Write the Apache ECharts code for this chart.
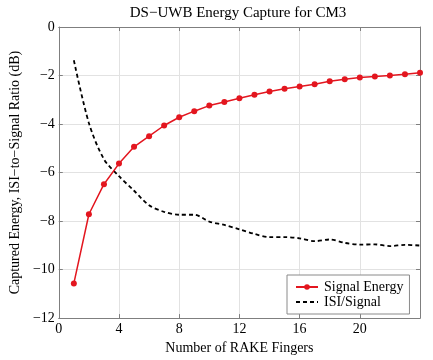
<!DOCTYPE html>
<html>
<head>
<meta charset="utf-8">
<script src="https://cdn.jsdelivr.net/npm/echarts@6/dist/echarts.min.js"></script>
<style>
html,body{margin:0;padding:0;background:#fff;}
#chart{width:433px;height:360px;}
</style>
</head>
<body>
<div id="chart"></div>
<script>
// Data
var fingers = [1,2,3,4,5,6,7,8,9,10,11,12,13,14,15,16,17,18,19,20,21,22,23,24];
var signalEnergy = [-10.57,-7.72,-6.48,-5.63,-4.94,-4.50,-4.06,-3.72,-3.47,-3.24,-3.09,-2.94,-2.79,-2.66,-2.55,-2.45,-2.36,-2.24,-2.15,-2.08,-2.04,-2.00,-1.95,-1.89];
var isiSignal = [-1.37,-3.96,-5.45,-6.15,-6.75,-7.35,-7.62,-7.74,-7.74,-8.02,-8.16,-8.34,-8.53,-8.66,-8.66,-8.71,-8.83,-8.76,-8.90,-8.97,-8.96,-9.03,-8.98,-9.01];
var xTicks = [0,4,8,12,16,20];
var seriesNames = ['Signal Energy','ISI/Signal'];
var titleText = 'DS\u2212UWB Energy Capture for CM3';
var xName = 'Number of RAKE Fingers';
var yName = 'Captured Energy, ISI\u2212to\u2212Signal Ratio (dB)';

function pairs(xs, ys){ return xs.map(function(x,i){ return [x, ys[i]]; }); }
var FONT = "'Liberation Serif', 'DejaVu Serif', serif";
var chart = echarts.init(document.getElementById('chart'), null, {renderer:'canvas'});
var axisColor = '#7f7f7f';
var gridColor = '#e2e2e2';
chart.setOption({
  backgroundColor: '#ffffff',
  animation: false,
  title: {
    text: titleText, left: 233, top: 1, textAlign: 'center',
    textStyle: {fontFamily: FONT, fontSize: 15, fontWeight: 'normal', color: '#000'}
  },
  grid: {left: 48, top: 27, width: 372, height: 294, containLabel: false},
  legend: {
    left: 287, top: 275, width: 128, height: 40,
    orient: 'vertical', itemGap: 1, itemWidth: 22, itemHeight: 7,
    padding: [5, 6, 5, 8],
    backgroundColor: '#fff', borderColor: '#8a8a8a', borderWidth: 1, borderRadius: 0,
    textStyle: {fontFamily: FONT, fontSize: 14, color: '#000', padding: [0,0,0,1]},
    data: [{name: seriesNames[0]}, {name: seriesNames[1], itemStyle: {opacity: 0}}]
  },
  xAxis: [{
    type: 'value', min: 0, max: 24, interval: 4,
    name: xName, nameLocation: 'middle', nameGap: 19,
    nameTextStyle: {fontFamily: FONT, fontSize: 14, color: '#000'},
    axisLine: {show: true, onZero: false, lineStyle: {color: axisColor, width: 1}},
    axisTick: {show: true, inside: true, length: 4, lineStyle: {color: axisColor}},
    axisLabel: {fontFamily: FONT, fontSize: 14, color: '#000', margin: 4,
      formatter: function(v){ return xTicks.indexOf(v) >= 0 ? String(v) : ''; }},
    splitLine: {show: true, lineStyle: {color: gridColor, width: 1}}
  },{
    type: 'value', min: 0, max: 24, interval: 4, position: 'top',
    axisLine: {show: true, onZero: false, lineStyle: {color: axisColor, width: 1}},
    axisTick: {show: true, inside: true, length: 4, lineStyle: {color: axisColor}},
    axisLabel: {show: false}, splitLine: {show: false}
  }],
  yAxis: [{
    type: 'value', min: -12, max: 0, interval: 2,
    name: yName, nameLocation: 'middle', nameGap: 27, nameRotate: 90,
    nameTextStyle: {fontFamily: FONT, fontSize: 14, color: '#000'},
    axisLine: {show: true, onZero: false, lineStyle: {color: axisColor, width: 1}},
    axisTick: {show: true, inside: true, length: 4, lineStyle: {color: axisColor}},
    axisLabel: {fontFamily: FONT, fontSize: 14, color: '#000', margin: 4,
      formatter: function(v){ return String(v).replace('-', '\u2212'); }},
    splitLine: {show: true, lineStyle: {color: gridColor, width: 1}}
  },{
    type: 'value', min: -12, max: 0, interval: 2, position: 'right',
    axisLine: {show: true, onZero: false, lineStyle: {color: axisColor, width: 1}},
    axisTick: {show: true, inside: true, length: 4, lineStyle: {color: axisColor}},
    axisLabel: {show: false}, splitLine: {show: false}
  }],
  series: [{
    name: seriesNames[0], type: 'line', data: pairs(fingers, signalEnergy),
    symbol: 'circle', symbolSize: 6, showSymbol: true,
    lineStyle: {color: '#e3161f', width: 1.5},
    itemStyle: {color: '#e3161f'}, z: 3
  },{
    name: seriesNames[1], type: 'line', data: pairs(fingers, isiSignal),
    symbol: 'none', smooth: 0.3,
    lineStyle: {color: '#000', width: 1.8, type: [4, 3]},
    itemStyle: {color: '#000'}, z: 2
  }]
});
</script>
</body>
</html>
